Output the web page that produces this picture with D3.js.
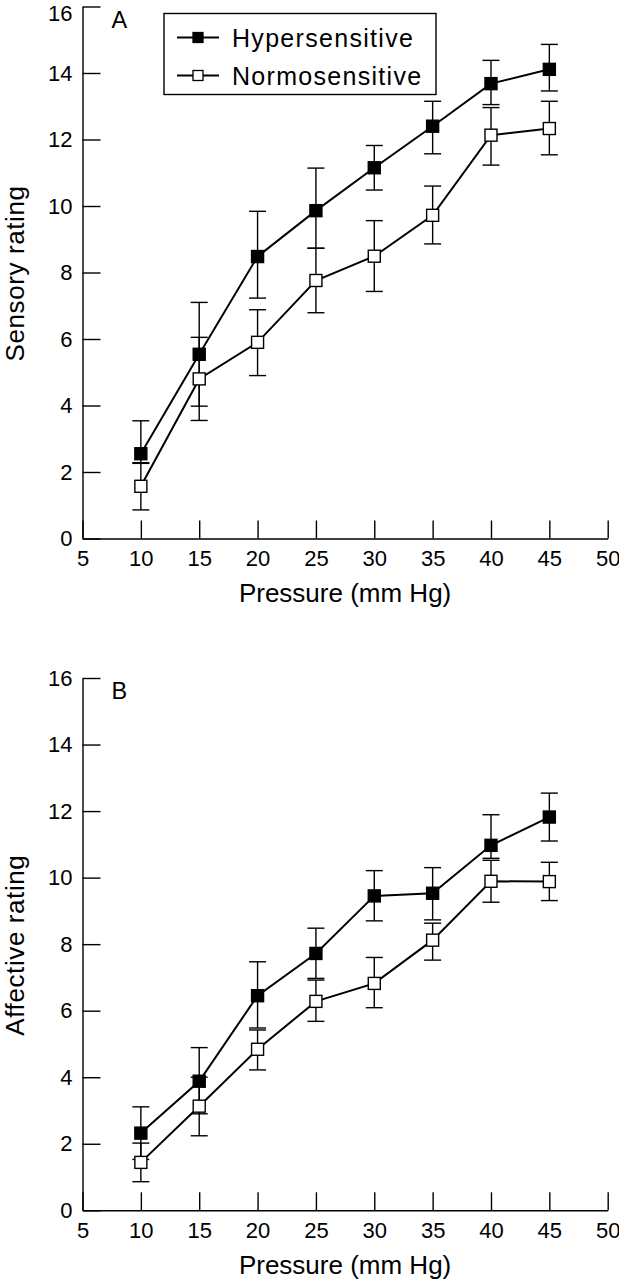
<!DOCTYPE html>
<html>
<head>
<meta charset="utf-8">
<script src="https://cdn.jsdelivr.net/npm/d3@7/dist/d3.min.js"></script>
<style>
  html, body { margin: 0; padding: 0; background: #ffffff; }
  svg { display: block; }
  text { font-family: "Liberation Sans", Arial, Helvetica, sans-serif; fill: #000; }
</style>
</head>
<body>
<svg id="chart" width="619" height="1280"></svg>
<script>
// ---------- data ----------
const pressures = [10, 15, 20, 25, 30, 35, 40, 45];
const xTicks = [5, 10, 15, 20, 25, 30, 35, 40, 45, 50];
const yTicks = [0, 2, 4, 6, 8, 10, 12, 14, 16];
const seriesNames = ["Hypersensitive", "Normosensitive"];

// Panel A: sensory rating
const hyperSensory   = [2.55, 5.54, 8.48, 9.86, 11.15, 12.40, 13.68, 14.11];
const hyperSensoryHi = [3.54, 7.10, 9.84, 11.14, 11.82, 13.15, 14.38, 14.86];
const hyperSensoryLo = [2.26, 3.98, 7.23, 8.73, 10.48, 11.57, 13.05, 13.46];
const normoSensory   = [1.57, 4.80, 5.90, 7.76, 8.49, 9.72, 12.13, 12.33];
const normoSensoryHi = [2.28, 6.05, 6.88, 8.73, 9.56, 10.60, 12.96, 13.15];
const normoSensoryLo = [0.86, 3.55, 4.90, 6.79, 7.43, 8.86, 11.23, 11.54];

// Panel B: affective rating
const hyperAffective   = [2.32, 3.88, 6.45, 7.72, 9.45, 9.53, 10.97, 11.82];
const hyperAffectiveHi = [3.11, 4.89, 7.47, 8.48, 10.21, 10.30, 11.89, 12.54];
const hyperAffectiveLo = [1.53, 2.90, 5.48, 6.97, 8.70, 8.73, 10.58, 11.10];
const normoAffective   = [1.44, 3.13, 4.84, 6.28, 6.82, 8.12, 9.89, 9.88];
const normoAffectiveHi = [2.02, 4.00, 5.42, 6.92, 7.60, 8.63, 10.52, 10.46];
const normoAffectiveLo = [0.86, 2.24, 4.22, 5.68, 6.09, 7.52, 9.26, 9.31];

// ---------- drawing ----------
const svg = d3.select("#chart");

function build(arr, hi, lo) {
  return pressures.map((p, i) => ({ x: p, y: arr[i], hi: hi[i], lo: lo[i] }));
}

const panels = [
  {
    label: "A", yTitle: "Sensory rating", yBottom: 538.5, yTop: 6.5, legend: true,
    series: [
      { name: seriesNames[0], fill: "#000", data: build(hyperSensory, hyperSensoryHi, hyperSensoryLo) },
      { name: seriesNames[1], fill: "#fff", data: build(normoSensory, normoSensoryHi, normoSensoryLo) }
    ]
  },
  {
    label: "B", yTitle: "Affective rating", yBottom: 1210.3, yTop: 678, legend: false,
    series: [
      { name: seriesNames[0], fill: "#000", data: build(hyperAffective, hyperAffectiveHi, hyperAffectiveLo) },
      { name: seriesNames[1], fill: "#fff", data: build(normoAffective, normoAffectiveHi, normoAffectiveLo) }
    ]
  }
];

const xLeft = 82.5, xRight = 607.7;
const markerSize = 12, capW = 17, tickLen = 18;

panels.forEach((panel, pi) => {
  const x = d3.scaleLinear().domain([5, 50]).range([xLeft, xRight]);
  const y = d3.scaleLinear().domain([0, 16]).range([panel.yBottom, panel.yTop]);
  const g = svg.append("g");

  // y axis
  const yAxis = d3.axisLeft(y).tickValues(yTicks).tickSizeInner(-tickLen).tickSizeOuter(0).tickPadding(10);
  const ya = g.append("g").attr("transform", `translate(${xLeft},0)`).call(yAxis);
  // x axis
  const xAxis = d3.axisBottom(x).tickValues(xTicks).tickSizeInner(-tickLen).tickSizeOuter(0).tickPadding(12);
  const xa = g.append("g").attr("transform", `translate(0,${panel.yBottom})`).call(xAxis);

  [ya, xa].forEach(a => {
    a.attr("font-size", null).attr("font-family", null);
    a.selectAll("path.domain").attr("stroke", "#000").attr("stroke-width", 1.4);
    a.selectAll(".tick line").attr("stroke", "#000").attr("stroke-width", 1.4);
    a.selectAll(".tick text").style("font-size", "22px").attr("fill", "#000");
  });
  // keep the topmost y label of the upper panel inside the page
  if (pi === 0) {
    ya.selectAll(".tick text").filter(d => d === 16).attr("dy", null).attr("dy", "14px");
  }

  // axis titles
  g.append("text")
    .attr("transform", `translate(24,${(panel.yBottom + panel.yTop) / 2 + 1}) rotate(-90)`)
    .attr("text-anchor", "middle")
    .style("font-size", "26px")
    .style("letter-spacing", "0.6px")
    .text(panel.yTitle);
  g.append("text")
    .attr("x", (xLeft + xRight) / 2)
    .attr("y", panel.yBottom + 63.5)
    .attr("text-anchor", "middle")
    .style("font-size", "26px")
    .text("Pressure (mm Hg)");

  // panel label
  g.append("text")
    .attr("x", 111.5)
    .attr("y", panel.yTop + 21)
    .style("font-size", "23.5px")
    .text(panel.label);

  // error bars
  panel.series.forEach(s => {
    const eb = g.append("g").attr("stroke", "#000").attr("stroke-width", 1.4);
    s.data.forEach(d => {
      eb.append("line").attr("x1", x(d.x)).attr("x2", x(d.x)).attr("y1", y(d.lo)).attr("y2", y(d.hi));
      eb.append("line").attr("x1", x(d.x) - capW / 2).attr("x2", x(d.x) + capW / 2).attr("y1", y(d.lo)).attr("y2", y(d.lo));
      eb.append("line").attr("x1", x(d.x) - capW / 2).attr("x2", x(d.x) + capW / 2).attr("y1", y(d.hi)).attr("y2", y(d.hi));
    });
  });

  // lines
  const line = d3.line().x(d => x(d.x)).y(d => y(d.y));
  panel.series.forEach(s => {
    g.append("path").datum(s.data).attr("d", line)
      .attr("fill", "none").attr("stroke", "#000").attr("stroke-width", 2);
  });

  // markers
  panel.series.forEach(s => {
    g.append("g").selectAll("rect").data(s.data).join("rect")
      .attr("x", d => x(d.x) - markerSize / 2)
      .attr("y", d => y(d.y) - markerSize / 2)
      .attr("width", markerSize).attr("height", markerSize)
      .attr("fill", s.fill).attr("stroke", "#000").attr("stroke-width", 1.4);
  });

  // legend
  if (panel.legend) {
    const lg = g.append("g");
    lg.append("rect").attr("x", 164).attr("y", 13.5).attr("width", 272).attr("height", 81)
      .attr("fill", "#fff").attr("stroke", "#000").attr("stroke-width", 1.4);
    panel.series.forEach((s, i) => {
      const ly = 37.5 + i * 38;
      lg.append("line").attr("x1", 177).attr("x2", 219).attr("y1", ly).attr("y2", ly)
        .attr("stroke", "#000").attr("stroke-width", 2);
      lg.append("rect").attr("x", 198 - 5).attr("y", ly - 5).attr("width", 10).attr("height", 10)
        .attr("fill", s.fill).attr("stroke", "#000").attr("stroke-width", 1.3);
      lg.append("text").attr("x", 232).attr("y", ly + 9)
        .style("font-size", "25px").style("letter-spacing", "1.3px")
        .text(s.name);
    });
  }
});
</script>
</body>
</html>
